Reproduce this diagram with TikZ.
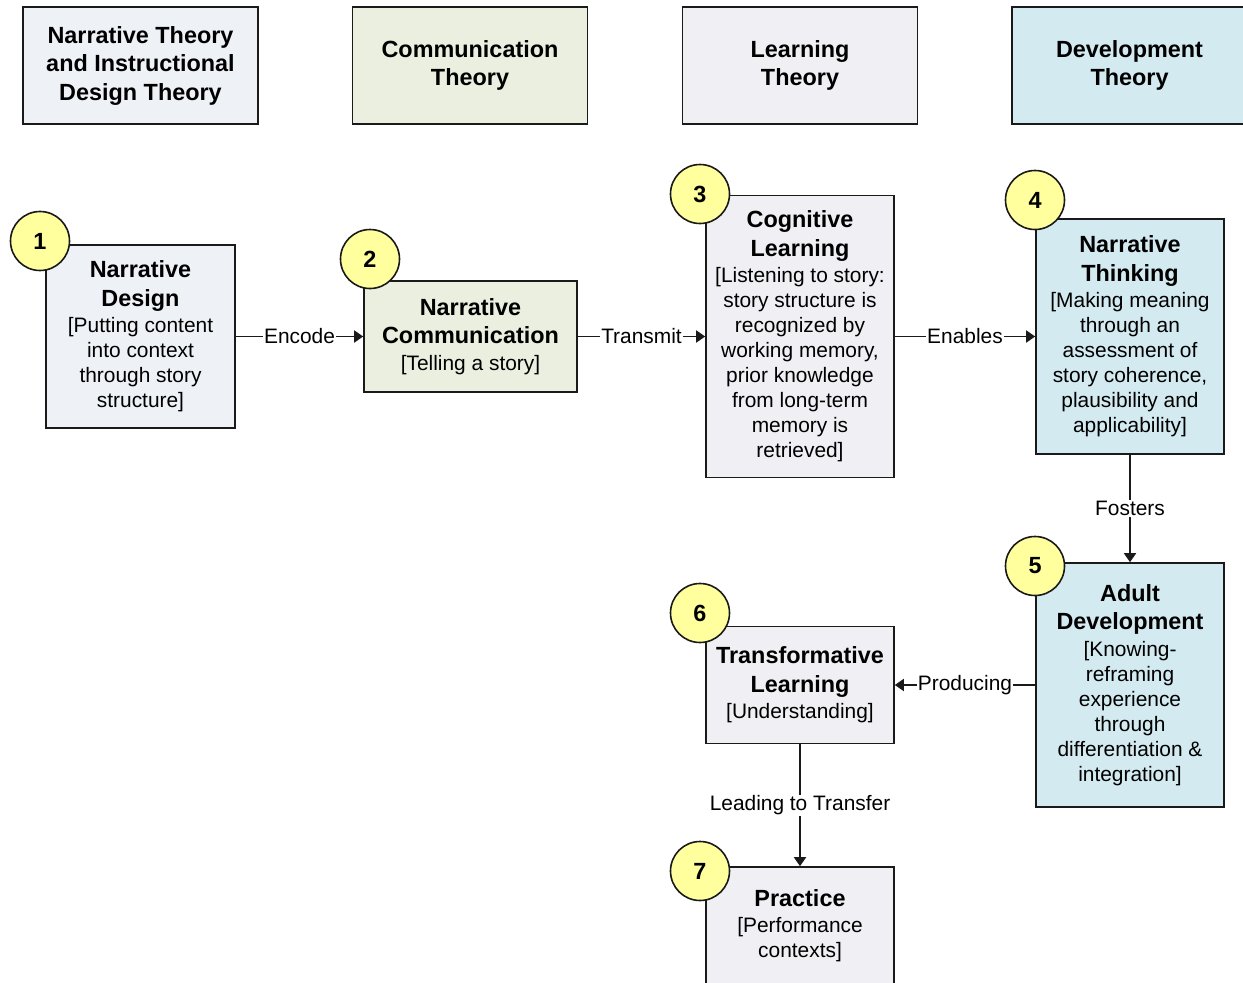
\documentclass[tikz,border=0pt]{standalone}
\usepackage{fontspec}
\setmainfont{Liberation Sans}
\usetikzlibrary{arrows.meta}
\definecolor{theoryA}{HTML}{EEF1F6}
\definecolor{theoryB}{HTML}{EBEFE0}
\definecolor{theoryC}{HTML}{F0EFF4}
\definecolor{theoryD}{HTML}{D3EAF0}
\definecolor{badge}{HTML}{FFFF9E}
\definecolor{ink}{HTML}{1A1A1A}
% bold title line
\newcommand\ttl[1]{{\fontsize{23.4}{28.5}\selectfont\bfseries #1}}

\begin{document}
\begin{tikzpicture}[x=1pt,y=-1pt,
  every node/.style={font=\fontsize{20.9}{25}\selectfont, text=black},
  box/.style={draw=ink, line width=1.6pt, align=center, inner sep=0pt, minimum width=188pt},
  header/.style={box, minimum width=235pt, minimum height=117pt},
  badgenode/.style={circle, draw=ink, fill=badge, line width=1.6pt, minimum size=59pt,
    inner sep=0pt, font=\fontsize{23.4}{28}\selectfont\bfseries},
  link/.style={draw=ink, line width=1.7pt, -{Triangle[length=9pt,width=12pt]}},
  lbl/.style={fill=white, inner sep=1pt}
]
\useasboundingbox (0,0) rectangle (1243,983);

% theory headers
\node[header, fill=theoryA] (h1) at (140.5,65.5)
  {\ttl{Narrative Theory}\\[3.5pt]\ttl{and Instructional}\\[3.5pt]\ttl{Design Theory}};
\node[header, fill=theoryB] (h2) at (470,65.5)
  {\ttl{Communication}\\[3.5pt]\ttl{Theory}};
\node[header, fill=theoryC] (h3) at (800,65.5)
  {\ttl{Learning}\\[3.5pt]\ttl{Theory}};
\node[header, fill=theoryD] (h4) at (1129.5,65.5)
  {\ttl{Development}\\[3.5pt]\ttl{Theory}};

% stages
\node[box, fill=theoryA, minimum width=189pt, minimum height=183pt] (b1) at (140.5,336.5)
  {\ttl{Narrative}\\[3.5pt]\ttl{Design}\\[1.5pt][Putting content\\into context\\through story\\structure]};
\node[box, fill=theoryB, minimum width=213pt, minimum height=111pt] (b2) at (470.5,336.5)
  {\ttl{Narrative}\\[3.5pt]\ttl{Communication}\\[1.5pt][Telling a story]};
\node[box, fill=theoryC, minimum height=282pt] (b3) at (800,336.5)
  {\ttl{Cognitive}\\[3.5pt]\ttl{Learning}\\[1.5pt][Listening to story:\\story structure is\\recognized by\\working memory,\\prior knowledge\\from long-term\\memory is\\retrieved]};
\node[box, fill=theoryD, minimum height=235pt] (b4) at (1130,336.5)
  {\ttl{Narrative}\\[3.5pt]\ttl{Thinking}\\[1.5pt][Making meaning\\through an\\assessment of\\story coherence,\\plausibility and\\applicability]};
\node[box, fill=theoryD, minimum height=244pt] (b5) at (1130,685)
  {\ttl{Adult}\\[3.5pt]\ttl{Development}\\[1.5pt][Knowing-\\reframing\\experience\\through\\differentiation \&\\integration]};
\node[box, fill=theoryC, minimum height=117pt] (b6) at (800,685)
  {\ttl{Transformative}\\[3.5pt]\ttl{Learning}\\[1.5pt][Understanding]};
\node[box, fill=theoryC, minimum height=117pt] (b7) at (800,925.5)
  {\ttl{Practice}\\[1.5pt][Performance\\contexts]};

% connectors
\draw[link] (b1) -- node[lbl] {Encode} (b2);
\draw[link] (b2) -- node[lbl] {Transmit} (b3);
\draw[link] (b3) -- node[lbl] {Enables} (b4);
\draw[link] (b4) -- node[lbl] {Fosters} (b5);
\draw[link] (b5) -- node[lbl] {Producing} (b6);
\draw[link] (b6) -- node[lbl] {Leading to Transfer} (b7);

% numbered badges
\node[badgenode] (n1) at (40,241) {1};
\node[badgenode] (n2) at (370,259) {2};
\node[badgenode] (n3) at (700,194) {3};
\node[badgenode] (n4) at (1035,200) {4};
\node[badgenode] (n5) at (1035,566) {5};
\node[badgenode] (n6) at (700,613) {6};
\node[badgenode] (n7) at (700,871) {7};
\end{tikzpicture}
\end{document}
